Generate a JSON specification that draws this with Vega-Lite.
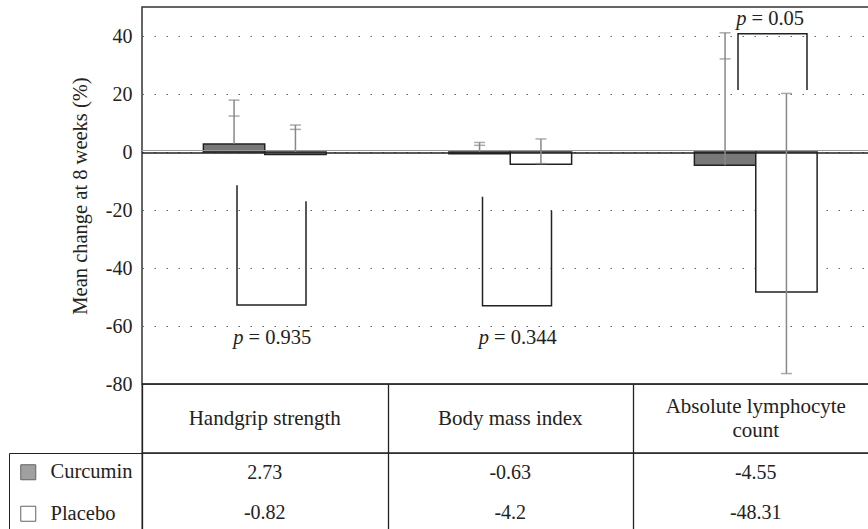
{
  "$schema": "https://vega.github.io/schema/vega-lite/v6.json",
  "padding": {"left": 7, "top": 6, "right": 0, "bottom": 0},
  "spacing": 0,
  "bounds": "flush",
  "datasets": {
    "means": [
      {"category": "Handgrip strength", "group": "Curcumin", "value": 2.73},
      {"category": "Handgrip strength", "group": "Placebo", "value": -0.82},
      {"category": "Body mass index", "group": "Curcumin", "value": -0.63},
      {"category": "Body mass index", "group": "Placebo", "value": -4.2},
      {"category": "Absolute lymphocyte\ncount", "group": "Curcumin", "value": -4.55},
      {"category": "Absolute lymphocyte\ncount", "group": "Placebo", "value": -48.31}
    ],
    "errors": [
      {"category": "Handgrip strength", "group": "Curcumin", "low": 2.73, "high": 17.9, "cap2": 12.4},
      {"category": "Handgrip strength", "group": "Placebo", "low": 0, "high": 9.3, "cap2": 7.8},
      {"category": "Body mass index", "group": "Curcumin", "low": 0, "high": 3.3, "cap2": 2.3},
      {"category": "Body mass index", "group": "Placebo", "low": -4.0, "high": 4.5, "cap2": -4.0},
      {"category": "Absolute lymphocyte\ncount", "group": "Curcumin", "low": -4.55, "high": 41.1, "cap2": 32.1},
      {"category": "Absolute lymphocyte\ncount", "group": "Placebo", "low": -76.4, "high": 20.2, "cap2": -76.4}
    ],
    "brackets": [
      {"category": "Handgrip strength", "side": "Curcumin", "y": -11.5, "ord": 0},
      {"category": "Handgrip strength", "side": "Curcumin", "y": -52.8, "ord": 1},
      {"category": "Handgrip strength", "side": "Placebo", "y": -52.8, "ord": 2},
      {"category": "Handgrip strength", "side": "Placebo", "y": -17.0, "ord": 3},
      {"category": "Body mass index", "side": "Curcumin", "y": -15.4, "ord": 0},
      {"category": "Body mass index", "side": "Curcumin", "y": -53.0, "ord": 1},
      {"category": "Body mass index", "side": "Placebo", "y": -53.0, "ord": 2},
      {"category": "Body mass index", "side": "Placebo", "y": -20.3, "ord": 3},
      {"category": "Absolute lymphocyte\ncount", "side": "Curcumin", "y": 21.4, "ord": 0},
      {"category": "Absolute lymphocyte\ncount", "side": "Curcumin", "y": 40.8, "ord": 1},
      {"category": "Absolute lymphocyte\ncount", "side": "Placebo", "y": 40.8, "ord": 2},
      {"category": "Absolute lymphocyte\ncount", "side": "Placebo", "y": 21.4, "ord": 3}
    ],
    "plabels": [
      {"category": "Handgrip strength", "side": "mid", "rest": "= 0.935", "y": -64},
      {"category": "Body mass index", "side": "mid", "rest": "= 0.344", "y": -64},
      {"category": "Absolute lymphocyte\ncount", "side": "mid", "rest": "= 0.05", "y": 46}
    ],
    "categories": [
      {"category": "Handgrip strength"},
      {"category": "Body mass index"},
      {"category": "Absolute lymphocyte\ncount"}
    ]
  },
  "vconcat": [
    {
      "width": 736.5,
      "height": 377,
      "view": {"stroke": "#333", "strokeWidth": 1.5},
      "layer": [
        {
          "layer": [
            {
              "data": {"name": "means"},
              "mark": {"type": "bar", "stroke": "#222", "strokeWidth": 1.5},
              "encoding": {
                "x": {"field": "category", "type": "nominal", "sort": null, "scale": {"domain": ["Handgrip strength", "Body mass index", "Absolute lymphocyte\ncount"], "paddingInner": 0, "paddingOuter": 0}, "axis": null},
                "xOffset": {"field": "group", "type": "nominal", "sort": null, "scale": {"domain": ["Curcumin", "Placebo"], "paddingInner": 0, "paddingOuter": 1}},
                "y": {
                  "field": "value", "type": "quantitative",
                  "scale": {"domain": [-80, 50], "nice": false},
                  "axis": {
                    "values": [-80, -60, -40, -20, 0, 20, 40],
                    "title": "Mean change at 8 weeks (%)",
                    "labelExpr": "'' + datum.value",
                    "ticks": false, "domain": false,
                    "labelPadding": 10,
                    "labelFont": "Liberation Serif", "labelFontSize": 20, "labelColor": "#222",
                    "titleFont": "Liberation Serif", "titleFontSize": 20.5, "titleFontWeight": "normal", "titleColor": "#222",
                    "titlePadding": 15,
                    "grid": true, "gridColor": "#666", "gridDash": [1.5, 10.5], "gridWidth": 1.2
                  }
                },
                "fill": {"field": "group", "type": "nominal", "scale": {"domain": ["Curcumin", "Placebo"], "range": ["#787878", "#ffffff"]}, "legend": null}
              }
            },
            {
              "data": {"values": [{}]},
              "mark": {"type": "rule", "color": "#999", "strokeWidth": 1.2, "yOffset": -1.5},
              "encoding": {"y": {"datum": 0, "type": "quantitative", "scale": {"domain": [-80, 50], "nice": false}}}
            },
            {
              "data": {"values": [{}]},
              "mark": {"type": "rule", "color": "#222", "strokeWidth": 1.3, "yOffset": 1},
              "encoding": {"y": {"datum": 0, "type": "quantitative", "scale": {"domain": [-80, 50], "nice": false}}}
            },
            {
              "data": {"name": "errors"},
              "mark": {"type": "rule", "color": "#888", "strokeWidth": 1.5},
              "encoding": {
                "x": {"field": "category", "type": "nominal", "sort": null, "scale": {"domain": ["Handgrip strength", "Body mass index", "Absolute lymphocyte\ncount"], "paddingInner": 0, "paddingOuter": 0}, "axis": null},
                "xOffset": {"field": "group", "type": "nominal", "sort": null, "scale": {"domain": ["Curcumin", "Placebo"], "paddingInner": 0, "paddingOuter": 1}},
                "y": {"field": "high", "type": "quantitative", "scale": {"domain": [-80, 50], "nice": false}},
                "y2": {"field": "low"}
              }
            },
            {
              "data": {"name": "errors"},
              "mark": {"type": "tick", "color": "#888", "thickness": 1.5, "size": 11},
              "encoding": {
                "x": {"field": "category", "type": "nominal", "sort": null, "scale": {"domain": ["Handgrip strength", "Body mass index", "Absolute lymphocyte\ncount"], "paddingInner": 0, "paddingOuter": 0}, "axis": null},
                "xOffset": {"field": "group", "type": "nominal", "sort": null, "scale": {"domain": ["Curcumin", "Placebo"], "paddingInner": 0, "paddingOuter": 1}},
                "y": {"field": "high", "type": "quantitative", "scale": {"domain": [-80, 50], "nice": false}}
              }
            },
            {
              "data": {"name": "errors"},
              "mark": {"type": "tick", "color": "#888", "thickness": 1.5, "size": 11},
              "encoding": {
                "x": {"field": "category", "type": "nominal", "sort": null, "scale": {"domain": ["Handgrip strength", "Body mass index", "Absolute lymphocyte\ncount"], "paddingInner": 0, "paddingOuter": 0}, "axis": null},
                "xOffset": {"field": "group", "type": "nominal", "sort": null, "scale": {"domain": ["Curcumin", "Placebo"], "paddingInner": 0, "paddingOuter": 1}},
                "y": {"field": "cap2", "type": "quantitative", "scale": {"domain": [-80, 50], "nice": false}}
              }
            }
          ]
        },
        {
          "layer": [
            {
              "data": {"name": "brackets"},
              "transform": [{"filter": {"field": "category", "oneOf": ["Handgrip strength", "Body mass index"]}}],
              "mark": {"type": "line", "color": "#222", "strokeWidth": 1.5},
              "encoding": {
                "x": {"field": "category", "type": "nominal", "sort": null, "scale": {"domain": ["Handgrip strength", "Body mass index", "Absolute lymphocyte\ncount"], "paddingInner": 0, "paddingOuter": 0}, "axis": null},
                "xOffset": {"field": "side", "type": "nominal", "scale": {"type": "point", "domain": ["Curcumin", "mid", "Placebo"], "range": [95, 164], "padding": 0}},
                "y": {"field": "y", "type": "quantitative", "scale": {"domain": [-80, 50], "nice": false}},
                "order": {"field": "ord", "type": "quantitative"},
                "detail": {"field": "category", "type": "nominal"}
              }
            },
            {
              "data": {"name": "plabels"},
              "transform": [{"filter": {"field": "category", "oneOf": ["Handgrip strength", "Body mass index"]}}],
              "mark": {"type": "text", "font": "Liberation Serif", "fontSize": 20.5, "fontStyle": "italic", "align": "right", "baseline": "middle", "dx": -28, "color": "#222"},
              "encoding": {
                "x": {"field": "category", "type": "nominal", "sort": null, "scale": {"domain": ["Handgrip strength", "Body mass index", "Absolute lymphocyte\ncount"], "paddingInner": 0, "paddingOuter": 0}, "axis": null},
                "xOffset": {"field": "side", "type": "nominal", "scale": {"type": "point", "domain": ["Curcumin", "mid", "Placebo"], "range": [95, 164], "padding": 0}},
                "y": {"field": "y", "type": "quantitative", "scale": {"domain": [-80, 50], "nice": false}},
                "text": {"value": "p"}
              }
            },
            {
              "data": {"name": "plabels"},
              "transform": [{"filter": {"field": "category", "oneOf": ["Handgrip strength", "Body mass index"]}}],
              "mark": {"type": "text", "font": "Liberation Serif", "fontSize": 20.5, "align": "left", "baseline": "middle", "dx": -23, "color": "#222"},
              "encoding": {
                "x": {"field": "category", "type": "nominal", "sort": null, "scale": {"domain": ["Handgrip strength", "Body mass index", "Absolute lymphocyte\ncount"], "paddingInner": 0, "paddingOuter": 0}, "axis": null},
                "xOffset": {"field": "side", "type": "nominal", "scale": {"type": "point", "domain": ["Curcumin", "mid", "Placebo"], "range": [95, 164], "padding": 0}},
                "y": {"field": "y", "type": "quantitative", "scale": {"domain": [-80, 50], "nice": false}},
                "text": {"field": "rest"}
              }
            }
          ]
        },
        {
          "layer": [
            {
              "data": {"name": "brackets"},
              "transform": [{"filter": {"field": "category", "oneOf": ["Absolute lymphocyte\ncount"]}}],
              "mark": {"type": "line", "color": "#222", "strokeWidth": 1.5},
              "encoding": {
                "x": {"field": "category", "type": "nominal", "sort": null, "scale": {"domain": ["Handgrip strength", "Body mass index", "Absolute lymphocyte\ncount"], "paddingInner": 0, "paddingOuter": 0}, "axis": null},
                "xOffset": {"field": "side", "type": "nominal", "scale": {"type": "point", "domain": ["Curcumin", "mid", "Placebo"], "range": [105, 174], "padding": 0}},
                "y": {"field": "y", "type": "quantitative", "scale": {"domain": [-80, 50], "nice": false}},
                "order": {"field": "ord", "type": "quantitative"},
                "detail": {"field": "category", "type": "nominal"}
              }
            },
            {
              "data": {"name": "plabels"},
              "transform": [{"filter": {"field": "category", "oneOf": ["Absolute lymphocyte\ncount"]}}],
              "mark": {"type": "text", "font": "Liberation Serif", "fontSize": 20.5, "fontStyle": "italic", "align": "right", "baseline": "middle", "dx": -26, "color": "#222"},
              "encoding": {
                "x": {"field": "category", "type": "nominal", "sort": null, "scale": {"domain": ["Handgrip strength", "Body mass index", "Absolute lymphocyte\ncount"], "paddingInner": 0, "paddingOuter": 0}, "axis": null},
                "xOffset": {"field": "side", "type": "nominal", "scale": {"type": "point", "domain": ["Curcumin", "mid", "Placebo"], "range": [105, 174], "padding": 0}},
                "y": {"field": "y", "type": "quantitative", "scale": {"domain": [-80, 50], "nice": false}},
                "text": {"value": "p"}
              }
            },
            {
              "data": {"name": "plabels"},
              "transform": [{"filter": {"field": "category", "oneOf": ["Absolute lymphocyte\ncount"]}}],
              "mark": {"type": "text", "font": "Liberation Serif", "fontSize": 20.5, "align": "left", "baseline": "middle", "dx": -21, "color": "#222"},
              "encoding": {
                "x": {"field": "category", "type": "nominal", "sort": null, "scale": {"domain": ["Handgrip strength", "Body mass index", "Absolute lymphocyte\ncount"], "paddingInner": 0, "paddingOuter": 0}, "axis": null},
                "xOffset": {"field": "side", "type": "nominal", "scale": {"type": "point", "domain": ["Curcumin", "mid", "Placebo"], "range": [105, 174], "padding": 0}},
                "y": {"field": "y", "type": "quantitative", "scale": {"domain": [-80, 50], "nice": false}},
                "text": {"field": "rest"}
              }
            }
          ]
        }
      ],
      "resolve": {"scale": {"xOffset": "independent"}}
    },
    {
      "width": 736.5,
      "height": 69,
      "view": {"stroke": "#222", "strokeWidth": 1.3},
      "data": {"name": "categories"},
      "layer": [
        {
          "transform": [{"filter": {"field": "category", "oneOf": ["Handgrip strength", "Body mass index"]}}],
          "mark": {"type": "text", "font": "Liberation Serif", "fontSize": 21, "baseline": "middle", "color": "#222"},
          "encoding": {
            "x": {"field": "category", "type": "nominal", "sort": null, "scale": {"domain": ["Handgrip strength", "Body mass index", "Absolute lymphocyte\ncount"], "paddingInner": 0, "paddingOuter": 0},
                  "axis": {"orient": "bottom", "labels": false, "ticks": false, "domain": false, "grid": true, "gridColor": "#222", "gridWidth": 1.3, "tickBand": "extent", "title": null}},
            "text": {"field": "category", "type": "nominal"}
          }
        },
        {
          "transform": [{"filter": {"field": "category", "oneOf": ["Absolute lymphocyte\ncount"]}}],
          "mark": {"type": "text", "font": "Liberation Serif", "fontSize": 21, "lineBreak": "\n", "lineHeight": 24.5, "baseline": "middle", "dy": -12, "color": "#222"},
          "encoding": {
            "x": {"field": "category", "type": "nominal", "sort": null, "scale": {"domain": ["Handgrip strength", "Body mass index", "Absolute lymphocyte\ncount"], "paddingInner": 0, "paddingOuter": 0}},
            "text": {"field": "category", "type": "nominal"}
          }
        }
      ]
    },
    {
      "width": 736.5,
      "height": 80,
      "view": {"stroke": "#222", "strokeWidth": 1.3},
      "layer": [
        {
          "data": {"name": "means"},
          "mark": {"type": "text", "font": "Liberation Serif", "fontSize": 20, "baseline": "middle", "color": "#222"},
          "encoding": {
            "x": {"field": "category", "type": "nominal", "sort": null, "scale": {"domain": ["Handgrip strength", "Body mass index", "Absolute lymphocyte\ncount"], "paddingInner": 0, "paddingOuter": 0},
                  "axis": {"orient": "bottom", "labels": false, "ticks": false, "domain": false, "grid": true, "gridColor": "#222", "gridWidth": 1.3, "tickBand": "extent", "title": null}},
            "y": {"field": "group", "type": "nominal", "sort": null, "scale": {"domain": ["Curcumin", "Placebo"], "paddingInner": 0, "paddingOuter": 0}, "axis": null},
            "text": {"field": "value", "type": "nominal"}
          }
        },
        {
          "data": {"name": "means"},
          "transform": [{"filter": "false"}],
          "mark": {"type": "square", "stroke": "#222", "strokeWidth": 1, "size": 225},
          "encoding": {
            "x": {"field": "category", "type": "nominal", "sort": null, "scale": {"domain": ["Handgrip strength", "Body mass index", "Absolute lymphocyte\ncount"], "paddingInner": 0, "paddingOuter": 0}},
            "y": {"field": "group", "type": "nominal", "sort": null, "scale": {"domain": ["Curcumin", "Placebo"], "paddingInner": 0, "paddingOuter": 0}, "axis": null},
            "fill": {
              "field": "group", "type": "nominal",
              "scale": {"domain": ["Curcumin", "Placebo"], "range": ["#787878", "#ffffff"]},
              "legend": {
                "orient": "left", "title": null, "offset": 0, "padding": 9,
                "strokeColor": "#222", "symbolType": "square", "symbolSize": 225,
                "symbolStrokeColor": "#222", "symbolStrokeWidth": 1,
                "labelFont": "Liberation Serif", "labelFontSize": 20.5, "labelColor": "#222",
                "labelOffset": 12, "rowPadding": 20.5, "labelLimit": 300
              }
            }
          }
        }
      ]
    }
  ],
  "resolve": {"scale": {"fill": "independent"}, "legend": {"fill": "independent"}}
}
